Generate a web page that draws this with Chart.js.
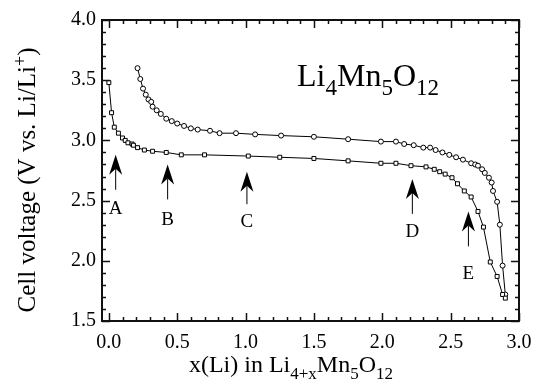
<!DOCTYPE html>
<html>
<head>
<meta charset="utf-8">
<script src="https://cdn.jsdelivr.net/npm/chart.js@4/dist/chart.umd.min.js"></script>
</head>
<body style="margin:0">
<canvas id="cellChart" width="539" height="386"></canvas>
<script>
// discharge (squares)
const dischargeX = [0.00, 0.02, 0.04, 0.07, 0.10, 0.12, 0.14, 0.17, 0.18, 0.21, 0.26, 0.32, 0.42, 0.53, 0.70, 1.02,
  1.25, 1.50, 1.75, 1.99, 2.10, 2.21, 2.32, 2.38, 2.42, 2.46, 2.51, 2.55, 2.60, 2.65, 2.70, 2.74, 2.79, 2.84, 2.88, 2.90];
const dischargeV = [3.48, 3.23, 3.11, 3.06, 3.02, 3.00, 2.98, 2.97, 2.96, 2.94, 2.92, 2.91, 2.90, 2.88, 2.88, 2.87,
  2.86, 2.85, 2.83, 2.81, 2.81, 2.79, 2.78, 2.76, 2.74, 2.72, 2.69, 2.64, 2.58, 2.53, 2.41, 2.28, 1.99, 1.87, 1.72, 1.69];

// charge (circles)
const chargeX = [0.21, 0.23, 0.25, 0.27, 0.29, 0.31, 0.32, 0.35, 0.38, 0.42, 0.46, 0.50, 0.55, 0.60, 0.65, 0.74, 0.81,
  0.93, 1.07, 1.26, 1.50, 1.75, 1.99, 2.10, 2.16, 2.23, 2.30, 2.35, 2.39, 2.44, 2.49, 2.54, 2.59, 2.65, 2.68, 2.70,
  2.73, 2.75, 2.78, 2.80, 2.81, 2.84, 2.86, 2.88, 2.90];
const chargeV = [3.60, 3.51, 3.43, 3.38, 3.34, 3.32, 3.28, 3.25, 3.22, 3.18, 3.16, 3.14, 3.12, 3.10, 3.09, 3.08, 3.06,
  3.06, 3.05, 3.04, 3.03, 3.01, 2.99, 2.99, 2.97, 2.96, 2.94, 2.94, 2.92, 2.90, 2.88, 2.86, 2.84, 2.81, 2.80, 2.79,
  2.76, 2.73, 2.69, 2.65, 2.58, 2.49, 2.30, 1.96, 1.72];

// arrows A-E
const arrowNames = ['A', 'B', 'C', 'D', 'E'];
const arrowX = [0.05, 0.43, 1.01, 2.22, 2.63];
const arrowTip = [2.88, 2.80, 2.74, 2.68, 2.41];
const arrowTail = [2.59, 2.51, 2.47, 2.39, 2.12];
const arrowLabelV = [2.43, 2.34, 2.32, 2.24, 1.89];

const xTicks = [0.0, 0.5, 1.0, 1.5, 2.0, 2.5, 3.0];
const yTicks = [1.5, 2.0, 2.5, 3.0, 3.5, 4.0];

const FONT = '"Liberation Serif"';

function toPoints(xs, ys) {
  return xs.map((x, i) => ({ x: x, y: ys[i] }));
}

// text pieces, each [text, 'n' | 'sub' | 'sup']
function richWidth(ctx, parts, size) {
  let w = 0;
  parts.forEach(p => {
    ctx.font = (p[1] === 'n' ? size : Math.round(size * 0.72)) + 'px ' + FONT;
    w += ctx.measureText(p[0]).width;
  });
  return w;
}
function drawRich(ctx, parts, x, y, size) {
  parts.forEach(p => {
    let s = p[1] === 'n' ? size : Math.round(size * 0.72);
    let dy = p[1] === 'sub' ? size * 0.28 : (p[1] === 'sup' ? -size * 0.38 : 0);
    ctx.font = s + 'px ' + FONT;
    ctx.fillText(p[0], x, y + dy);
    x += ctx.measureText(p[0]).width;
  });
}

// box with inward ticks on all four sides
function drawFrame(chart, color) {
  const ctx = chart.ctx, a = chart.chartArea;
  const xs = chart.scales.x, ys = chart.scales.y;
  ctx.save();
  ctx.strokeStyle = color;
  ctx.lineWidth = 2;
  ctx.strokeRect(a.left, a.top, a.width, a.height);
  ctx.lineWidth = 1.5;
  ctx.beginPath();
  for (let i = 0; i <= 30; i++) {
    let px = Math.round(xs.getPixelForValue(i / 10)) + 0.5;
    let len = i % 5 === 0 ? 8 : 4;
    ctx.moveTo(px, a.bottom); ctx.lineTo(px, a.bottom - len);
    ctx.moveTo(px, a.top); ctx.lineTo(px, a.top + len);
  }
  for (let i = 15; i <= 40; i++) {
    let py = Math.round(ys.getPixelForValue(i / 10)) + 0.5;
    let len = i % 5 === 0 ? 8 : 4;
    ctx.moveTo(a.left, py); ctx.lineTo(a.left + len, py);
    ctx.moveTo(a.right, py); ctx.lineTo(a.right - len, py);
  }
  ctx.stroke();
  ctx.restore();
}

const notesPlugin = {
  id: 'notes',
  afterDraw(chart) {
    const ctx = chart.ctx;
    const xs = chart.scales.x, ys = chart.scales.y;
    drawFrame(chart, '#111');
    ctx.save();
    ctx.strokeStyle = '#000';
    ctx.fillStyle = '#000';
    ctx.lineWidth = 1;
    ctx.textAlign = 'center';
    ctx.textBaseline = 'middle';
    arrowNames.forEach((name, i) => {
      let px = xs.getPixelForValue(arrowX[i]);
      let tip = ys.getPixelForValue(arrowTip[i]);
      let tail = ys.getPixelForValue(arrowTail[i]);
      ctx.beginPath();
      ctx.moveTo(px, tip + 14); ctx.lineTo(px, tail);
      ctx.stroke();
      ctx.beginPath();
      ctx.moveTo(px, tip);
      ctx.lineTo(px + 6.5, tip + 20);
      ctx.lineTo(px, tip + 14);
      ctx.lineTo(px - 6.5, tip + 20);
      ctx.closePath();
      ctx.fill();
      ctx.font = '19px ' + FONT;
      ctx.fillText(name, px, ys.getPixelForValue(arrowLabelV[i]));
    });

    ctx.textAlign = 'left';
    ctx.textBaseline = 'alphabetic';
    drawRich(ctx, [['Li', 'n'], ['4', 'sub'], ['Mn', 'n'], ['5', 'sub'], ['O', 'n'], ['12', 'sub']], 297, 86, 32);

    let xParts = [['x(Li) in Li', 'n'], ['4+x', 'sub'], ['Mn', 'n'], ['5', 'sub'], ['O', 'n'], ['12', 'sub']];
    let w = richWidth(ctx, xParts, 24);
    drawRich(ctx, xParts, 291 - w / 2, 372, 24);

    let yParts = [['Cell voltage (V vs. Li/Li', 'n'], ['+', 'sup'], [')', 'n']];
    ctx.translate(35, 180);
    ctx.rotate(-Math.PI / 2);
    w = richWidth(ctx, yParts, 25);
    drawRich(ctx, yParts, -w / 2, 0, 25);
    ctx.restore();
  }
};

const edge = { display: true, color: '#000', width: 2 };

new Chart(document.getElementById('cellChart'), {
  type: 'line',
  data: {
    datasets: [
      {
        label: 'discharge', data: toPoints(dischargeX, dischargeV), xAxisID: 'x', yAxisID: 'y',
        pointStyle: 'rect', pointRadius: 2.8,
        borderColor: '#000', borderWidth: 1, pointBorderColor: '#000', pointBackgroundColor: '#fff', pointBorderWidth: 1
      },
      {
        label: 'charge', data: toPoints(chargeX, chargeV), xAxisID: 'x', yAxisID: 'y',
        pointStyle: 'circle', pointRadius: 2.5,
        borderColor: '#000', borderWidth: 1, pointBorderColor: '#000', pointBackgroundColor: '#fff', pointBorderWidth: 1
      }
    ]
  },
  options: {
    responsive: false,
    animation: false,
    layout: { padding: { top: 20, right: 20 } },
    plugins: { legend: { display: false }, tooltip: { enabled: false } },
    scales: {
      x: {
        type: 'linear', position: 'bottom', min: -0.05, max: 3.0,
        afterBuildTicks: s => { s.ticks = xTicks.map(v => ({ value: v })); },
        afterFit: s => { s.height = 65; s.paddingLeft = 0; s.paddingRight = 0; },
        grid: { display: false, drawTicks: false },
        border: edge,
        ticks: { color: '#000', padding: 10, maxRotation: 0, font: { family: 'Liberation Serif', size: 20 },
          callback: v => v.toFixed(1) }
      },
      xTop: {
        type: 'linear', position: 'top', min: -0.05, max: 3.0,
        afterFit: s => { s.height = 0; s.paddingLeft = 0; s.paddingRight = 0; },
        grid: { display: false, drawTicks: false },
        border: edge,
        ticks: { display: false }
      },
      y: {
        type: 'linear', position: 'left', min: 1.5, max: 4.0,
        afterBuildTicks: s => { s.ticks = yTicks.map(v => ({ value: v })); },
        afterFit: s => { s.width = 102; },
        grid: { display: false, drawTicks: false },
        border: edge,
        ticks: { color: '#000', padding: 6, font: { family: 'Liberation Serif', size: 20 },
          callback: v => v.toFixed(1) }
      },
      yRight: {
        type: 'linear', position: 'right', min: 1.5, max: 4.0,
        afterFit: s => { s.width = 0; },
        grid: { display: false, drawTicks: false },
        border: edge,
        ticks: { display: false }
      }
    }
  },
  plugins: [notesPlugin]
});
</script>
</body>
</html>
